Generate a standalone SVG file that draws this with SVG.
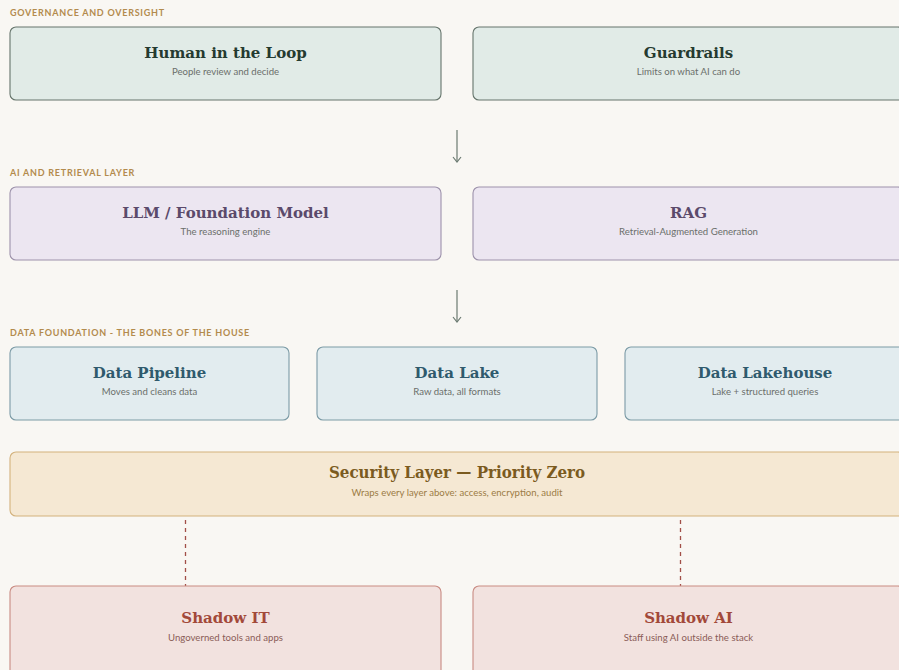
<svg xmlns="http://www.w3.org/2000/svg" width="899" height="670" viewBox="0 0 899 670">
<style>
.sec{font-family:Lato,"Liberation Sans",sans-serif;font-weight:700;font-size:9px;letter-spacing:0.75px;fill:#b38b4d}
.t{font-family:"DejaVu Serif",serif;font-weight:700;font-size:15px;text-anchor:middle}
.s{font-family:Lato,"Liberation Sans",sans-serif;font-size:9.6px;text-anchor:middle;fill:#6b6f6b}
.gov rect{fill:#e1ebe7;stroke:#66756c;stroke-width:1.1}
.gov .t{fill:#253a30}
.ai rect{fill:#ece6f1;stroke:#9d92ab;stroke-width:1.1}
.ai .t{fill:#5b4a6b}
.dat rect{fill:#e2ecef;stroke:#7c9ba6;stroke-width:1.1}
.dat .t{fill:#2f5a6d}
.secu rect{fill:#f5e8d3;stroke:#d3b27d;stroke-width:1.1}
.secu .t{fill:#7b5b1f;font-family:"DejaVu Serif Condensed","DejaVu Serif",serif;font-size:16.8px}
.secu .s{fill:#9c7c45}
.sh rect{fill:#f2e2df;stroke:#c98b82;stroke-width:1.1}
.sh .t{fill:#a2493a}
.sh .s{fill:#8a5c57}
.arr{stroke:#6b7a71;stroke-width:1.2;fill:none}
.dash{stroke:#a24f48;stroke-width:1.3;stroke-dasharray:4 4;fill:none}
</style>
<defs>
<marker id="ah" viewBox="0 0 10 10" refX="9" refY="5" markerWidth="10" markerHeight="10" markerUnits="userSpaceOnUse" orient="auto">
<path d="M4,1 L9,5 L4,9" fill="none" stroke="#6b7a71" stroke-width="1.2"/>
</marker>
</defs>
<rect x="0" y="0" width="899" height="670" fill="#f9f7f3"/>
<text class="sec" x="10" y="16">GOVERNANCE AND OVERSIGHT</text>
<text class="sec" x="10" y="176">AI AND RETRIEVAL LAYER</text>
<text class="sec" x="10" y="336">DATA FOUNDATION - THE BONES OF THE HOUSE</text>
<g id="connectors">
<line class="arr" x1="457" y1="130" x2="457" y2="162" marker-end="url(#ah)"/>
<line class="arr" x1="457" y1="290" x2="457" y2="322" marker-end="url(#ah)"/>
<line class="dash" x1="185.5" y1="520" x2="185.5" y2="586"/>
<line class="dash" x1="680.5" y1="520" x2="680.5" y2="586"/>
</g>
<g id="human" class="gov"><rect x="10" y="27" width="431" height="73" rx="6"/><text class="t" x="225.5" y="58">Human in the Loop</text><text class="s" x="225.5" y="75">People review and decide</text></g>
<g id="guardrails" class="gov"><rect x="473" y="27" width="431" height="73" rx="6"/><text class="t" x="688.5" y="58">Guardrails</text><text class="s" x="688.5" y="75">Limits on what AI can do</text></g>
<g id="llm" class="ai"><rect x="10" y="187" width="431" height="73" rx="6"/><text class="t" x="225.5" y="218">LLM / Foundation Model</text><text class="s" x="225.5" y="235">The reasoning engine</text></g>
<g id="rag" class="ai"><rect x="473" y="187" width="431" height="73" rx="6"/><text class="t" x="688.5" y="218">RAG</text><text class="s" x="688.5" y="235">Retrieval-Augmented Generation</text></g>
<g id="pipeline" class="dat"><rect x="10" y="347" width="279" height="73" rx="6"/><text class="t" x="149.5" y="378">Data Pipeline</text><text class="s" x="149.5" y="395">Moves and cleans data</text></g>
<g id="lake" class="dat"><rect x="317" y="347" width="280" height="73" rx="6"/><text class="t" x="457" y="378">Data Lake</text><text class="s" x="457" y="395">Raw data, all formats</text></g>
<g id="lakehouse" class="dat"><rect x="625" y="347" width="280" height="73" rx="6"/><text class="t" x="765" y="378">Data Lakehouse</text><text class="s" x="765" y="395">Lake + structured queries</text></g>
<g id="security" class="secu"><rect x="10" y="452" width="894" height="64" rx="6"/><text class="t" x="457" y="478">Security Layer — Priority Zero</text><text class="s" x="457" y="496">Wraps every layer above: access, encryption, audit</text></g>
<g id="shadowit" class="sh"><rect x="10" y="586" width="431" height="90" rx="6"/><text class="t" x="225.5" y="623">Shadow IT</text><text class="s" x="225.5" y="641">Ungoverned tools and apps</text></g>
<g id="shadowai" class="sh"><rect x="473" y="586" width="431" height="90" rx="6"/><text class="t" x="688.5" y="623">Shadow AI</text><text class="s" x="688.5" y="641">Staff using AI outside the stack</text></g>
</svg>
